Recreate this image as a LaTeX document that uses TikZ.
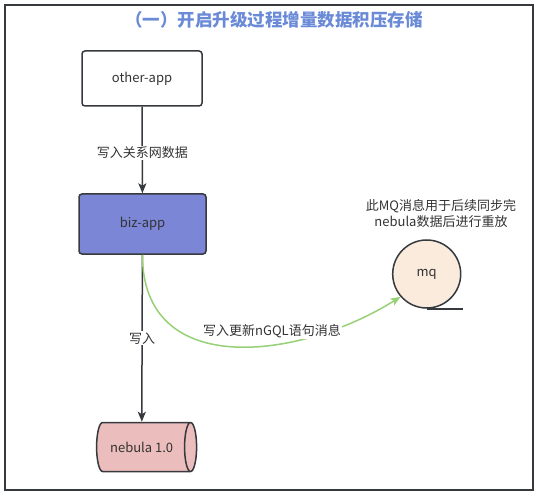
\documentclass[tikz,border=0pt]{standalone}
\usepackage{fontspec}
\setmainfont{Noto Sans CJK SC}
\usepackage{tikz}
\usetikzlibrary{arrows.meta,shapes.geometric}
\definecolor{flowink}{HTML}{36393D}
\definecolor{flowtitle}{HTML}{6A8AD8}
\definecolor{flowblue}{HTML}{7B86D6}
\definecolor{flowpeach}{HTML}{FAEBDD}
\definecolor{flowpink}{HTML}{EBBDBD}
\definecolor{flowgreen}{HTML}{97D077}
\definecolor{flowtext}{HTML}{333333}

\begin{document}
\begin{tikzpicture}[x=1pt,y=-1pt,font=\fontsize{13}{16}\selectfont,
    box/.style={draw=flowink,line width=1.5pt,rounded corners=3pt,text=flowtext},
    flow/.style={draw=flowink,line width=1.5pt,-{Stealth[length=10pt,width=8pt,inset=2.5pt]}},
    lbl/.style={fill=white,text=flowtext,inner sep=1pt}]
    \useasboundingbox (0,0) rectangle (538,497);
    \draw[flowink,line width=1.6pt] (5,5) rectangle (533,490);
    \node[text=flowtitle,font=\fontsize{17.5}{20}\selectfont\bfseries] (title) at (274,19.5) {（一）开启升级过程增量数据积压存储};
    \node[box,minimum width=120pt,minimum height=55pt] (otherapp) at (142,78.5) {other-app};
    \node[box,fill=flowblue,minimum width=127pt,minimum height=60pt] (bizapp) at (142.5,224) {biz-app};
    \node[circle,draw=flowink,line width=1.5pt,fill=flowpeach,minimum size=68pt,text=flowtext] (mq) at (426.7,274) {mq};
    \draw[flowink,line width=1.5pt] (mq.south) -- ++(36,0);
    \node[text=flowtext,align=center] (mqnote) at (441,213.5) {此MQ消息用于后续同步完\\nebula数据后进行重放};
    \node[cylinder,draw=flowink,line width=1.5pt,fill=flowpink,minimum width=49pt,minimum height=100pt,shape aspect=0.7,text=flowtext] (nebula) at (141.7,447) {nebula 1.0};
    \draw[flow] (otherapp) -- node[lbl,pos=0.53] (lblrel) {写入关系网数据} (bizapp);
    \draw[flow] (bizapp) -- node[lbl,pos=0.5] (lblwrite) {写入} (nebula);
    % message to the queue
    \draw[flow,draw=flowgreen] (bizapp.south) .. controls (142,380) and (300,360) .. (mq.221);
    \node[lbl] (lblmsg) at (272,331) {写入更新nGQL语句消息};
\end{tikzpicture}
\end{document}
